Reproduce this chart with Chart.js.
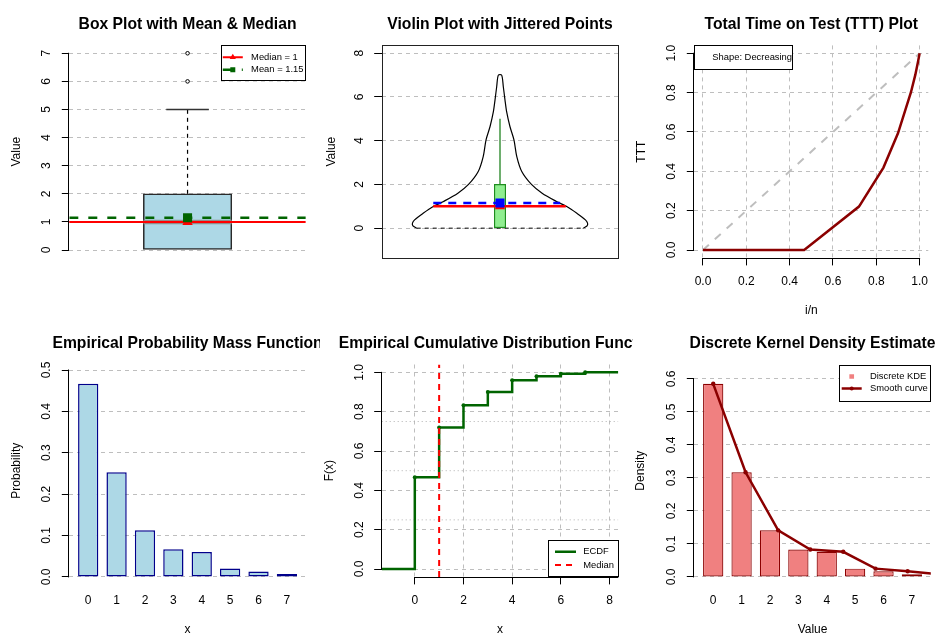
<!DOCTYPE html>
<html>
<head>
<meta charset="utf-8">
<script src="https://cdn.jsdelivr.net/npm/chart.js"></script>
<style>
html,body{margin:0;padding:0;background:#fff;overflow:hidden;width:937px;height:635px;}
canvas{position:absolute;}
</style>
</head>
<body>
<canvas id="p1"></canvas><canvas id="p2"></canvas><canvas id="p3"></canvas>
<canvas id="p4"></canvas><canvas id="p5"></canvas><canvas id="p6"></canvas>
<script>
// ---------------- DATA ----------------
// Panel 1: box plot
const boxTicks = [0, 1, 2, 3, 4, 5, 6, 7];
const boxFive = [0, 0, 1, 2, 5];          // lower whisker, Q1, median, Q3, upper whisker
const boxOutliers = [6, 7];
const sampleMedian = [1];
const sampleMean = [1.15];
// Panel 2: violin
const violinTicks = [0, 2, 4, 6, 8];
const violinLevels = [0, 0.1, 0.23, 0.38, 0.68, 0.99, 1.21, 1.6, 2.0, 2.59, 3.27, 4.04, 4.65, 5.33, 5.87, 6.47, 7.0];
const violinHalfWidth = [0.352, 0.368, 0.370, 0.361, 0.325, 0.282, 0.241, 0.178, 0.133, 0.092, 0.071, 0.059, 0.042, 0.028, 0.021, 0.014, 0.007];
// Panel 3: TTT plot
const tttTicks = [0, 0.2, 0.4, 0.6, 0.8, 1.0];
const tttU = [0, 0.467, 0.72, 0.833, 0.9, 0.96, 0.98, 0.993, 1.0];
const tttT = [0, 0, 0.221, 0.419, 0.593, 0.802, 0.890, 0.959, 1.0];
const tttShape = ['Shape: Decreasing'];
// Panel 4: PMF
const countValues = [0, 1, 2, 3, 4, 5, 6, 7];
const pmfProb = [0.467, 0.253, 0.113, 0.067, 0.060, 0.020, 0.013, 0.007];
const pmfTicks = [0, 0.1, 0.2, 0.3, 0.4, 0.5];
// Panel 5: ECDF
const ecdfF = [0.467, 0.72, 0.833, 0.9, 0.96, 0.98, 0.993, 1.0];
const ecdfXTicks = [0, 2, 4, 6, 8];
const ecdfYTicks = [0, 0.2, 0.4, 0.6, 0.8, 1.0];
const ecdfRefLevels = [0.25, 0.5, 0.75];
// Panel 6: discrete KDE
const kdeDensity = [0.585, 0.317, 0.141, 0.083, 0.076, 0.025, 0.017, 0.008];
const kdeCurvePos = [0, 1.14, 2.29, 3.42, 4.58, 5.72, 6.85, 7.99];
const kdeTicks = [0, 0.1, 0.2, 0.3, 0.4, 0.5, 0.6];

// ---------------- HELPERS ----------------
const FAM = "'Liberation Sans', Arial, Helvetica, sans-serif";
Chart.defaults.font.family = FAM;
Chart.defaults.font.size = 12;
Chart.defaults.color = '#000';
const GRID = '#bebebe';
const TL = 7.5;
const mctx = document.createElement('canvas').getContext('2d');
function textW(s) { mctx.font = '12px ' + FAM; return mctx.measureText(s).width; }
function fmt(v, dec) { return dec ? Number(v).toFixed(dec) : String(v); }
function seg(x0, y0, x1, y1, color, width, dash) {
  return {type: 'line', data: [{x: x0, y: y0}, {x: x1, y: y1}], borderColor: color, borderWidth: width,
    borderDash: dash || [], pointRadius: 0, fill: false, tension: 0};
}
function pts(list, style, r, fill, border, bw) {
  return {type: 'scatter', data: list, pointStyle: style, pointRadius: r, pointHoverRadius: r,
    pointBackgroundColor: fill, pointBorderColor: border || fill, pointBorderWidth: bw || 0, showLine: false};
}
function ordered(list) { const n = list.length; list.forEach((d, i) => { d.order = n - i; }); return list; }

function drawMarker(ctx, m, x, y) {
  ctx.fillStyle = m.color;
  ctx.beginPath();
  if (m.style === 'triangle') {
    const r = m.size;
    ctx.moveTo(x, y - r); ctx.lineTo(x + r * 0.866, y + r / 2); ctx.lineTo(x - r * 0.866, y + r / 2); ctx.closePath();
  } else if (m.style === 'rect') {
    ctx.rect(x - m.size / 2, y - m.size / 2, m.size, m.size);
  } else {
    ctx.arc(x, y, m.size, 0, Math.PI * 2);
  }
  ctx.fill();
}

function deco(p) {
  return {
    id: 'deco',
    afterDraw(chart) {
      const ctx = chart.ctx, a = chart.chartArea;
      ctx.save();
      ctx.strokeStyle = '#000'; ctx.lineWidth = 1; ctx.setLineDash([]);
      if (p.frame) {
        const l = Math.round(a.left) + 0.5, t = Math.round(a.top) + 0.5;
        ctx.strokeStyle = '#222';
        ctx.strokeRect(l, t, Math.round(a.right) - Math.round(a.left), Math.round(a.bottom) - Math.round(a.top));
        ctx.strokeStyle = '#000';
      }
      if (p.axisY) {
        const s = chart.scales.y, t = p.y.ticks;
        const x = Math.round(a.left) - 0.5;
        ctx.beginPath();
        ctx.moveTo(x, s.getPixelForValue(t[0]) + 0.5);
        ctx.lineTo(x, s.getPixelForValue(t[t.length - 1]) - 0.5);
        ctx.stroke();
      }
      if (p.axisX) {
        const s = chart.scales.x, t = p.x.ticks;
        const y = Math.round(a.bottom) + 0.5;
        const xEnd = p.x.axisToEdge ? a.right : s.getPixelForValue(t[t.length - 1]) + 0.5;
        ctx.beginPath();
        ctx.moveTo(s.getPixelForValue(t[0]) - 0.5, y);
        ctx.lineTo(xEnd, y);
        ctx.stroke();
      }
      // main title
      ctx.fillStyle = '#000';
      ctx.font = 'bold 15.7px ' + FAM;
      ctx.textAlign = 'center'; ctx.textBaseline = 'alphabetic';
      ctx.fillText(p.title, (a.left + a.right) / 2, p.titleBase - p.canvas.top);
      // legend
      const lg = p.legend;
      if (lg) {
        const x0 = lg.anchor.indexOf('right') >= 0 ? a.right - lg.w : a.left;
        const y0 = lg.anchor.indexOf('bottom') >= 0 ? a.bottom - lg.h : a.top;
        ctx.fillStyle = '#fff';
        ctx.fillRect(x0, y0, lg.w, lg.h);
        ctx.strokeStyle = '#000'; ctx.lineWidth = 1;
        ctx.strokeRect(Math.round(x0) + 0.5, Math.round(y0) + 0.5, Math.round(lg.w) - 1, Math.round(lg.h) - 1);
        ctx.save();
        ctx.beginPath(); ctx.rect(x0, y0, lg.w, lg.h); ctx.clip();
        lg.items.forEach(it => {
          const y = y0 + it.dy;
          if (it.line) {
            ctx.strokeStyle = it.line.color; ctx.lineWidth = it.line.width;
            ctx.setLineDash(it.line.dash || []);
            ctx.beginPath(); ctx.moveTo(x0 + it.line.x1, y); ctx.lineTo(x0 + it.line.x2, y); ctx.stroke();
            ctx.setLineDash([]);
          }
          if (it.marker) drawMarker(ctx, it.marker, x0 + it.marker.x, y);
          ctx.fillStyle = '#000';
          ctx.font = '9.4px ' + FAM;
          ctx.textAlign = 'left'; ctx.textBaseline = 'middle';
          ctx.fillText(it.text, x0 + lg.tx, y);
        });
        ctx.restore();
      }
      ctx.restore();
    }
  };
}

function build(p) {
  const cv = document.getElementById(p.id);
  const c = p.canvas;
  cv.width = c.w; cv.height = c.h;
  cv.style.left = c.left + 'px'; cv.style.top = c.top + 'px';
  const L = p.plot.l - c.left, R = p.plot.r - c.left, T = p.plot.t - c.top, B = p.plot.b - c.top;
  const ylabels = p.y.ticks.map(v => fmt(v, p.y.dec));
  const widest = Math.max.apply(null, ylabels.map(textW));
  const scales = {
    y: {
      type: 'linear', min: p.y.min, max: p.y.max, bounds: 'data', offset: false, z: p.gridTop ? 1 : 0,
      afterBuildTicks: s => { s.ticks = p.y.ticks.map(v => ({value: v})); },
      afterFit: s => { s.width = L; },
      ticks: {autoSkip: false, minRotation: 90, maxRotation: 90, crossAlign: 'center',
        padding: 22.3 - TL - widest / 2, color: '#000', font: {size: 12},
        callback: v => fmt(v, p.y.dec)},
      grid: {display: true, drawOnChartArea: true, offset: false, color: GRID, lineWidth: 1, drawTicks: true,
        tickLength: TL, tickColor: '#000', tickWidth: 1},
      border: {display: false, dash: [4, 4]},
      title: {display: true, text: p.y.title, color: '#000', font: {size: 12, lineHeight: 1},
        padding: {top: p.y.titleX - c.left - 6, bottom: 0}}
    }
  };
  if (p.x.show) {
    scales.x = {
      type: 'linear', min: p.x.min, max: p.x.max, bounds: 'data', offset: false, z: p.gridTop ? 1 : 0,
      afterBuildTicks: s => { s.ticks = p.x.ticks.map(v => ({value: v})); },
      afterFit: s => { s.height = c.h - B; },
      ticks: {autoSkip: false, minRotation: 0, maxRotation: 0,
        padding: 23.5 - 7.2 - (p.x.tickMarks ? TL : 0), color: '#000', font: {size: 12},
        callback: v => fmt(v, p.x.dec)},
      grid: {display: !!p.x.grid, drawOnChartArea: !!p.x.grid, offset: false, color: GRID, lineWidth: 1,
        drawTicks: !!p.x.tickMarks, tickLength: TL, tickColor: '#000', tickWidth: 1},
      border: {display: false, dash: [4, 4]},
      title: {display: true, text: p.x.title, color: '#000', font: {size: 12, lineHeight: 1},
        padding: {top: 0, bottom: c.h - (p.plot.b + 52.6 - c.top) - 6}}
    };
  } else {
    scales.x = {type: 'linear', min: p.x.min, max: p.x.max, bounds: 'data', offset: false,
      grid: {offset: false}, display: false};
  }
  new Chart(cv, {
    type: 'scatter',
    data: {datasets: ordered(p.datasets)},
    options: {
      responsive: false, animation: false, devicePixelRatio: 1, events: [],
      layout: {autoPadding: false, padding: {left: 0, top: T, right: c.w - R, bottom: p.x.show ? 0 : c.h - B}},
      scales: scales,
      plugins: {legend: {display: false}, tooltip: {enabled: false}, title: {display: false}}
    },
    plugins: [deco(p)]
  });
}

const ROW = [{t: 45.4, b: 257.9}, {t: 364.5, b: 576.9}];
const COL = [{l: 69.3, r: 305.8}, {l: 381.7, r: 618.3}, {l: 694.3, r: 930.8}];
function plotAt(r, c) { return {l: COL[c].l, r: COL[c].r, t: ROW[r].t, b: ROW[r].b}; }

// ---------- Panel 1: Box plot ----------
build({
  id: 'p1', canvas: {left: 0, top: 0, w: 315, h: 317}, plot: plotAt(0, 0), titleBase: 29.3,
  title: 'Box Plot with Mean & Median', axisY: true,
  x: {show: false, min: 0.5, max: 1.5},
  y: {min: -0.28, max: 7.28, ticks: boxTicks, dec: 0, title: 'Value', titleX: 16.7},
  datasets: [
    {type: 'bar', data: [{x: 1, y: [boxFive[1], boxFive[3]]}], backgroundColor: '#ADD8E6',
      borderColor: '#2a2a2a', borderWidth: 1.5, borderSkipped: false, barThickness: 88.4},
    seg(0.8135, boxFive[2], 1.1865, boxFive[2], '#8e8e8e', 4.5),
    seg(1, boxFive[3], 1, boxFive[4], '#000', 1.2, [4, 4]),
    seg(0.91, boxFive[4], 1.09, boxFive[4], '#333', 1.5),
    pts(boxOutliers.map(v => ({x: 1, y: v})), 'circle', 1.8, '#fff', '#000', 1),
    seg(0.49, sampleMedian[0], 1.5, sampleMedian[0], '#ff0000', 2),
    seg(0.5, sampleMean[0], 1.5, sampleMean[0], '#006400', 2.5, [9, 10]),
    pts([{x: 1, y: sampleMedian[0]}], 'triangle', 6, '#ff0000'),
    pts([{x: 1, y: sampleMean[0]}], 'rect', 6.4, '#006400')
  ],
  legend: {anchor: 'topright', w: 84.7, h: 36, tx: 30, items: [
    {dy: 11.9, text: 'Median = ' + sampleMedian[0], line: {color: '#ff0000', width: 2, x1: 1.7, x2: 21.7},
      marker: {style: 'triangle', color: '#ff0000', size: 3.6, x: 11.7}},
    {dy: 24.3, text: 'Mean = ' + sampleMean[0], line: {color: '#006400', width: 2.5, dash: [9, 10], x1: 1.7, x2: 21.7},
      marker: {style: 'rect', color: '#006400', size: 5, x: 11.7}}
  ]}
});

// ---------- Panel 2: Violin ----------
const violinOutline = violinLevels.map((v, i) => ({x: 1 - violinHalfWidth[i], y: v}))
  .concat(violinLevels.map((v, i) => ({x: 1 + violinHalfWidth[i], y: v})).reverse());
build({
  id: 'p2', canvas: {left: 315, top: 0, w: 315, h: 317}, plot: plotAt(0, 1), titleBase: 29.3,
  title: 'Violin Plot with Jittered Points', frame: true,
  x: {show: false, min: 0.5, max: 1.5},
  y: {min: -1.36, max: 8.36, ticks: violinTicks, dec: 0, title: 'Value', titleX: 331.2},
  datasets: [
    {type: 'line', data: violinOutline, borderColor: '#000', borderWidth: 1.2, pointRadius: 0, tension: 0.3, fill: false},
    seg(1 - violinHalfWidth[0], 0, 1 + violinHalfWidth[0], 0, '#000', 1, [4, 4]),
    seg(1, boxFive[3], 1, boxFive[4], '#4a9a4a', 1.6),
    {type: 'bar', data: [{x: 1, y: [boxFive[1], boxFive[3]]}], backgroundColor: '#90EE90',
      borderColor: '#1e8c1e', borderWidth: 1.2, borderSkipped: false, barThickness: 11.4},
    seg(0.718, sampleMedian[0], 1.278, sampleMedian[0], '#ff0000', 2.5),
    seg(0.718, sampleMean[0], 1.254, sampleMean[0], '#0000ff', 2.5, [8, 7]),
    pts([{x: 1, y: sampleMedian[0]}], 'triangle', 6, '#ff0000'),
    pts([{x: 1, y: sampleMean[0]}], 'rect', 6.4, '#0000ff')
  ]
});

// ---------- Panel 3: TTT ----------
build({
  id: 'p3', canvas: {left: 630, top: 0, w: 307, h: 317}, plot: plotAt(0, 2), titleBase: 29.3,
  title: 'Total Time on Test (TTT) Plot', axisX: true, axisY: true, gridTop: true,
  x: {show: true, min: -0.04, max: 1.04, ticks: tttTicks, dec: 1, title: 'i/n', grid: true, tickMarks: true},
  y: {min: -0.04, max: 1.04, ticks: tttTicks, dec: 1, title: 'TTT', titleX: 641.7},
  datasets: [
    seg(0, 0, 1, 1, '#bebebe', 2, [8, 8]),
    {type: 'line', data: tttU.map((u, i) => ({x: u, y: tttT[i]})), borderColor: '#8B0000', borderWidth: 2.5,
      pointRadius: 0, tension: 0, fill: false}
  ],
  legend: {anchor: 'topleft', w: 99, h: 24.6, tx: 18, items: [{dy: 12.3, text: tttShape[0]}]}
});

// ---------- Panel 4: PMF ----------
build({
  id: 'p4', canvas: {left: 0, top: 317, w: 320, h: 330}, plot: plotAt(1, 0), titleBase: 348,
  title: 'Empirical Probability Mass Function', axisY: true,
  x: {show: true, min: -0.666, max: 7.666, ticks: countValues, dec: 0, title: 'x', grid: false, tickMarks: false},
  y: {min: 0, max: 0.5133, ticks: pmfTicks, dec: 1, title: 'Probability', titleX: 16.7},
  datasets: [
    {type: 'bar', data: countValues.map((x, i) => ({x: x, y: pmfProb[i]})), backgroundColor: '#ADD8E6',
      borderColor: '#00008B', borderWidth: 1.5, borderSkipped: false, categoryPercentage: 1, barPercentage: 0.714}
  ]
});

// ---------- Panel 5: ECDF ----------
const ecdfPts = [{x: -1.36, y: 0}].concat(countValues.map((x, i) => ({x: x, y: ecdfF[i]}))).concat([{x: 8.36, y: 1}]);
build({
  id: 'p5', canvas: {left: 320, top: 317, w: 313, h: 330}, plot: plotAt(1, 1), titleBase: 348,
  title: 'Empirical Cumulative Distribution Function', axisX: true, axisY: true, gridTop: true,
  x: {show: true, min: -1.36, max: 8.36, ticks: ecdfXTicks, dec: 0, title: 'x', grid: true, tickMarks: true, axisToEdge: true},
  y: {min: -0.04, max: 1.04, ticks: ecdfYTicks, dec: 1, title: 'F(x)', titleX: 329.2},
  datasets: ecdfRefLevels.map(l => seg(-1.36, l, 8.36, l, '#b0b0b0', 1, [1, 3])).concat([
    {type: 'line', data: ecdfPts, stepped: 'before', borderColor: '#006400', borderWidth: 2.5, fill: false,
      pointRadius: ecdfPts.map((d, i) => (i === 0 || i === ecdfPts.length - 1) ? 0 : 2),
      pointBackgroundColor: '#006400', pointBorderWidth: 0},
    seg(sampleMedian[0], -0.04, sampleMedian[0], 1.04, '#ff0000', 2, [6, 5])
  ]),
  legend: {anchor: 'bottomright', w: 70.6, h: 36.9, tx: 35.6, items: [
    {dy: 11.7, text: 'ECDF', line: {color: '#006400', width: 2.5, x1: 7.3, x2: 28.3}},
    {dy: 25, text: 'Median', line: {color: '#ff0000', width: 2, dash: [6, 5], x1: 7.3, x2: 28.3}}
  ]}
});

// ---------- Panel 6: Discrete KDE ----------
build({
  id: 'p6', canvas: {left: 633, top: 317, w: 304, h: 330}, plot: plotAt(1, 2), titleBase: 348,
  title: 'Discrete Kernel Density Estimate', axisY: true,
  x: {show: true, min: -0.666, max: 7.666, ticks: countValues, dec: 0, title: 'Value', grid: false, tickMarks: false},
  y: {min: 0, max: 0.6435, ticks: kdeTicks, dec: 1, title: 'Density', titleX: 640.8},
  datasets: [
    {type: 'bar', data: countValues.map((x, i) => ({x: x, y: kdeDensity[i]})), backgroundColor: '#F08080',
      borderColor: '#8B0000', borderWidth: 1.2, borderSkipped: false, categoryPercentage: 1, barPercentage: 0.714},
    {type: 'line', data: kdeCurvePos.map((x, i) => ({x: x, y: kdeDensity[i]})), borderColor: '#8B0000',
      borderWidth: 2.5, tension: 0, fill: false, pointRadius: 2.2, pointBackgroundColor: '#8B0000', pointBorderWidth: 0}
  ],
  legend: {anchor: 'topright', w: 91.5, h: 36.5, tx: 30.7, items: [
    {dy: 12, text: 'Discrete KDE', marker: {style: 'rect', color: '#F08080', size: 4.7, x: 12.4}},
    {dy: 24, text: 'Smooth curve', line: {color: '#8B0000', width: 2.5, x1: 2.4, x2: 22.4},
      marker: {style: 'circle', color: '#8B0000', size: 2, x: 12.4}}
  ]}
});
</script>
</body>
</html>
